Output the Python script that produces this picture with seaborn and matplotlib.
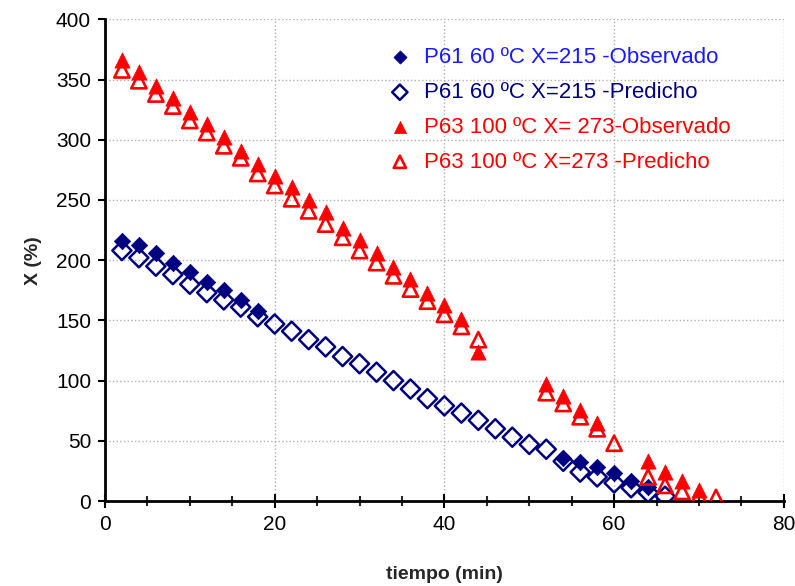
import matplotlib
matplotlib.use('Agg')
import matplotlib.pyplot as plt
import seaborn as sns
import pandas as pd

# Data
t_p61_obs = [2, 4, 6, 8, 10, 12, 14, 16, 18, 54, 56, 58, 60, 62, 64]
x_p61_obs = [216, 213, 206, 198, 190, 182, 175, 167, 158, 36, 32, 28, 23, 17, 12]

t_p61_pred = [2, 4, 6, 8, 10, 12, 14, 16, 18, 20, 22, 24, 26, 28, 30, 32, 34,
              36, 38, 40, 42, 44, 46, 48, 50, 52, 54, 56, 58, 60, 62, 64, 66]
x_p61_pred = [208, 202, 195, 188, 180, 173, 167, 161, 153, 147, 141, 134, 128,
              120, 114, 107, 100, 93, 85, 79, 73, 67, 60, 53, 47, 43, 33, 24,
              20, 15, 11, 7, 4]

t_p63_obs = [2, 4, 6, 8, 10, 12, 14, 16, 18, 20, 22, 24, 26, 28, 30, 32, 34,
             36, 38, 40, 42, 44, 52, 54, 56, 58, 64, 66, 68, 70]
x_p63_obs = [366, 356, 345, 335, 323, 313, 302, 291, 280, 270, 261, 250, 240,
             227, 217, 206, 194, 184, 173, 163, 151, 124, 97, 87, 76, 65, 33,
             24, 17, 9]

t_p63_pred = [2, 4, 6, 8, 10, 12, 14, 16, 18, 20, 22, 24, 26, 28, 30, 32, 34,
              36, 38, 40, 42, 44, 52, 54, 56, 58, 60, 64, 66, 68, 70, 72]
x_p63_pred = [358, 349, 338, 328, 316, 306, 295, 285, 272, 262, 251, 241, 230,
              219, 208, 198, 187, 176, 166, 155, 145, 134, 90, 81, 70, 60, 48,
              20, 13, 8, 4, 3]

labels = ['P61 60 ºC X=215 -Observado',
          'P61 60 ºC X=215 -Predicho',
          'P63 100 ºC X= 273-Observado',
          'P63 100 ºC X=273 -Predicho']
label_colors = ['#1a1aff', '#000080', '#ff0000', '#ff0000']

navy = '#000080'
red = '#ff0000'

sns.set_style('white')
plt.rcParams['font.family'] = ['Liberation Sans', 'DejaVu Sans']

fig, ax = plt.subplots(figsize=(7.95, 5.86), dpi=100)
fig.subplots_adjust(left=0.132, right=0.986, top=0.967, bottom=0.145)

sns.scatterplot(x=t_p61_obs, y=x_p61_obs, ax=ax, marker='D', s=70,
                color=navy, edgecolor=navy, linewidth=0.5, label=labels[0], zorder=3)
sns.scatterplot(x=t_p61_pred, y=x_p61_pred, ax=ax, marker='D', s=95,
                facecolor='none', edgecolor=navy, linewidth=1.8, label=labels[1], zorder=4)
sns.scatterplot(x=t_p63_obs, y=x_p63_obs, ax=ax, marker='^', s=120,
                color=red, edgecolor=red, linewidth=0.5, label=labels[2], zorder=3)
sns.scatterplot(x=t_p63_pred, y=x_p63_pred, ax=ax, marker='^', s=120,
                facecolor='none', edgecolor=red, linewidth=1.9, label=labels[3], zorder=4)

ax.set_xlim(0, 80)
ax.set_ylim(0, 400)
ax.set_xticks(range(0, 81, 20))
ax.set_xticks(range(0, 81, 5), minor=True)
ax.set_yticks(range(0, 401, 50))

ax.grid(True, which='major', color='#b0b0b0', linestyle=':', linewidth=1.0)
ax.set_axisbelow(True)

for side in ['top', 'right']:
    ax.spines[side].set_visible(False)
for side in ['left', 'bottom']:
    ax.spines[side].set_color('black')
    ax.spines[side].set_linewidth(2)

ax.tick_params(axis='y', which='major', direction='out', length=5, width=1.5,
               labelsize=15, colors='black', left=True, pad=5)
ax.tick_params(axis='x', which='major', direction='inout', length=10, width=1.5,
               labelsize=15, colors='black', bottom=True, pad=5)
ax.tick_params(axis='x', which='minor', direction='inout', length=7, width=1.5,
               bottom=True)

ax.set_xlabel('tiempo (min)', fontsize=14, fontweight='bold', labelpad=23)
ax.set_ylabel('X (%)', fontsize=14, fontweight='bold', labelpad=10)

leg = ax.legend(loc='upper left', bbox_to_anchor=(0.418, 0.942), frameon=False,
                fontsize=16, handlelength=1.0, handletextpad=0.6,
                labelspacing=0.62, markerscale=0.8, borderaxespad=0,
                borderpad=0)
for txt, c in zip(leg.get_texts(), label_colors):
    txt.set_color(c)

fig.savefig('out.png', dpi=100)
